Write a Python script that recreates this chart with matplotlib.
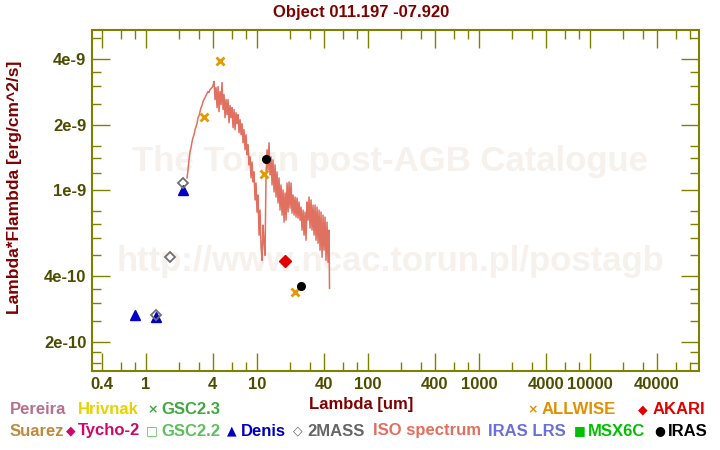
import matplotlib
matplotlib.use('Agg')
import matplotlib.pyplot as plt
from matplotlib.ticker import NullFormatter

plt.rcParams['font.family'] = ['Liberation Sans', 'DejaVu Sans']
plt.rcParams['font.weight'] = 'bold'
plt.rcParams['font.size'] = 12

title = 'Object 011.197 -07.920'

# photometry (wavelength in um, flux in erg/cm^2/s)
allwise_wl = [3.35, 4.6, 11.6, 22.1]
allwise_fl = [2.16e-9, 3.95e-9, 1.19e-9, 3.38e-10]
iras_wl = [12.0, 25.0]
iras_fl = [1.385e-9, 3.6e-10]
akari_wl = [18.0]
akari_fl = [4.71e-10]
denis_wl = [0.79, 1.22, 2.15]
denis_fl = [2.66e-10, 2.61e-10, 1.0e-9]
twomass_wl = [1.24, 1.65, 2.16]
twomass_fl = [2.65e-10, 4.9e-10, 1.08e-9]

# ISO spectrum (flux in units of 1e-9)
iso_wl = [2.341, 2.390, 2.440, 2.491, 2.544, 2.597, 2.651, 2.707, 2.764, 2.822,
          2.881, 2.941, 3.003, 3.066, 3.130, 3.196, 3.263, 3.331, 3.401, 3.472,
          3.545, 3.619, 3.695, 3.773, 3.852, 3.933, 4.015, 4.099,
          4.185, 4.273, 4.363, 4.454, 4.548, 4.643, 4.740, 4.840, 4.941, 5.045,
          5.151, 5.259, 5.369, 5.482, 5.597, 5.714, 5.834, 5.956, 6.081, 6.209,
          6.339, 6.472, 6.607, 6.746, 6.887, 7.032, 7.179, 7.330, 7.483, 7.640,
          7.800, 7.964, 8.131, 8.301, 8.475, 8.653, 8.834, 9.020, 9.209, 9.402,
          9.599, 9.800, 10.00, 10.21, 10.43, 10.65, 10.87, 11.10, 11.33, 11.57,
          11.81,
          12.06, 12.31, 12.57, 12.83, 13.10, 13.38, 13.66, 13.94, 14.24, 14.53,
          14.84, 15.15, 15.47, 15.79, 16.12, 16.46, 16.81, 17.16, 17.52, 17.89,
          18.26, 18.65, 19.04, 19.44, 19.84, 20.26, 20.68, 21.12, 21.56, 22.01,
          22.47, 22.94, 23.42, 23.92, 24.42, 24.93, 25.45, 25.99, 26.53, 27.09,
          27.65, 28.23, 28.83, 29.43, 30.05, 30.68, 31.32, 31.98, 32.65, 33.33,
          34.03, 34.74, 35.47, 36.21, 36.97, 37.75, 38.54, 39.35, 40.17, 41.01,
          41.87, 42.75, 43.65, 44.56, 45.0]
iso_fl = [1.137, 1.238, 1.377, 1.500, 1.565, 1.668, 1.741, 1.797, 1.896, 1.957,
          2.021, 2.154, 2.201, 2.297, 2.396, 2.448, 2.555, 2.610, 2.667, 2.724,
          2.783, 2.843, 2.813, 2.904, 2.935, 2.967, 3.030, 3.162,
          2.610, 2.967, 2.396, 2.998, 2.297, 2.843, 2.474, 3.129, 2.346, 2.754,
          2.154, 2.610, 2.224, 2.610, 2.043, 2.448, 2.154, 2.396, 1.936, 2.346,
          1.896, 2.272, 2.021, 2.224, 1.836, 2.109, 1.797, 2.021, 1.650, 1.896,
          1.532, 1.797, 1.452, 1.616, 1.305, 1.421, 1.137, 1.348, 1.089, 1.212,
          0.899, 1.077, 0.791, 0.948, 0.619, 0.808, 0.545, 0.474, 0.689, 0.568,
          0.500,
          1.173, 1.532, 1.238, 1.650, 1.173, 1.421, 1.055, 1.377, 0.979, 1.305,
          0.928, 1.212, 0.871, 1.137, 0.808, 1.055, 0.766, 1.000, 0.711, 0.969,
          0.726, 1.077, 0.791, 1.089, 0.825, 1.077, 0.782, 0.948, 0.766, 0.928,
          0.750, 0.918, 0.742, 0.880, 0.726, 0.834, 0.653, 0.808, 0.619, 0.791,
          0.587, 0.880, 0.726, 0.928, 0.667, 0.899, 0.653, 0.852, 0.619, 0.852,
          0.587, 0.834, 0.568, 0.808, 0.528, 0.791, 0.490, 0.766, 0.528, 0.750,
          0.474, 0.711, 0.464, 0.653, 0.352]

x_major = [0.4, 1, 4, 10, 40, 100, 400, 1000, 4000, 10000, 40000]
x_labels = ['0.4', '1', '4', '10', '40', '100', '400', '1000', '4000', '10000', '40000']
x_minor = [0.6, 0.8, 2, 3, 6, 8, 20, 30, 60, 80, 200, 300, 600, 800,
           2000, 3000, 6000, 8000, 20000, 30000, 60000, 80000]
y_major = [2e-10, 4e-10, 1e-9, 2e-9, 4e-9]
y_labels = ['2e-10', '4e-10', '1e-9', '2e-9', '4e-9']
y_minor = [1.6e-10, 1.8e-10, 2.5e-10, 3e-10, 3.5e-10, 5e-10, 6e-10, 7e-10, 8e-10,
           1.2e-9, 1.4e-9, 1.6e-9, 2.5e-9, 3e-9, 3.5e-9, 5e-9]

# legend rows: (symbol, label, colour, symbol x, label x) in pixels
legend_row1 = [(None, 'Pereira', '#b8708c', 0, 10),
               (None, 'Hrivnak', '#e8d200', 0, 78),
               ('×', 'GSC2.3', '#40a840', 147, 161),
               ('×', 'ALLWISE', '#e09000', 527, 542),
               ('◆', 'AKARI', '#e00000', 638, 653)]
legend_row2 = [(None, 'Suarez', '#c0893c', 0, 10),
               ('◆', 'Tycho-2', '#d0086c', 66, 78),
               ('□', 'GSC2.2', '#5cc05c', 146, 161),
               ('▲', 'Denis', '#0000c0', 227, 241),
               ('◇', '2MASS', '#666666', 293, 307),
               (None, 'ISO spectrum', '#e07060', 0, 373),
               (None, 'IRAS LRS', '#6a70d8', 0, 488),
               ('■', 'MSX6C', '#00c000', 574, 588),
               ('●', 'IRAS', '#000000', 654, 668)]

W, H = 720, 450
olive = '#808000'
tickc = '#4d4d00'
dark_red = '#800000'

fig = plt.figure(figsize=(7.2, 4.5), dpi=100)
ax = fig.add_axes([92 / W, 1 - 371 / H, (699 - 92) / W, (371 - 30) / H])

ax.text(0.491, 0.613, 'The Torun post-AGB Catalogue', transform=ax.transAxes,
        ha='center', va='center', fontsize=25, color='#f6f1ec', zorder=0)
ax.text(0.491, 0.32, 'http://www.ncac.torun.pl/postagb', transform=ax.transAxes,
        ha='center', va='center', fontsize=25, color='#f6f1ec', zorder=0)

ax.plot(iso_wl, [f * 1e-9 for f in iso_fl], color='#e07060', lw=1.1, zorder=2)
ax.plot(allwise_wl, allwise_fl, 'x', color='#e39a00', ms=6, mew=2, zorder=3)
ax.plot(iras_wl, iras_fl, 'o', color='black', ms=5.5, zorder=3)
ax.plot(akari_wl, akari_fl, 'D', color='#e00000', ms=6, zorder=3)
ax.plot(denis_wl, denis_fl, '^', color='#0000c8', ms=7, zorder=3)
ax.plot(twomass_wl, twomass_fl, 'D', mfc='none', mec='#707070', ms=5.5, mew=1.3, zorder=4)

ax.set_xscale('log')
ax.set_yscale('log')
ax.set_xlim(0.326, 9.6e4)
ax.set_ylim(1.465e-10, 5.46e-9)

ax.set_xticks(x_major, labels=x_labels)
ax.set_xticks(x_minor, minor=True)
ax.set_yticks(y_major, labels=y_labels)
ax.set_yticks(y_minor, minor=True)
ax.xaxis.set_minor_formatter(NullFormatter())
ax.yaxis.set_minor_formatter(NullFormatter())

ax.tick_params(which='both', direction='in', top=True, right=True,
               color=olive, width=1, labelcolor=tickc, labelsize=12)
ax.tick_params(which='major', length=13, pad=4)
ax.tick_params(which='minor', length=6.5)
for s in ax.spines.values():
    s.set_color(olive)
    s.set_linewidth(1.5)

fig.text(361 / W, 1 - 12 / H, title, ha='center', va='center', color=dark_red, fontsize=12)
fig.text(361 / W, 1 - 404 / H, 'Lambda [um]', ha='center', va='center', color=dark_red, fontsize=12)
fig.text(15 / W, 1 - 187 / H, 'Lambda*Flambda [erg/cm^2/s]', rotation=90,
         ha='center', va='center', color=dark_red, fontsize=12.5)

for row, yp in ((legend_row1, 410), (legend_row2, 431)):
    for sym, lab, col, xs, xl in row:
        if sym:
            fig.text(xs / W, 1 - yp / H, sym, ha='left', va='center', color=col,
                     fontsize=9, family=['DejaVu Sans'])
        fig.text(xl / W, 1 - yp / H, lab, ha='left', va='center', color=col, fontsize=12)

fig.savefig('out.png', dpi=100)
